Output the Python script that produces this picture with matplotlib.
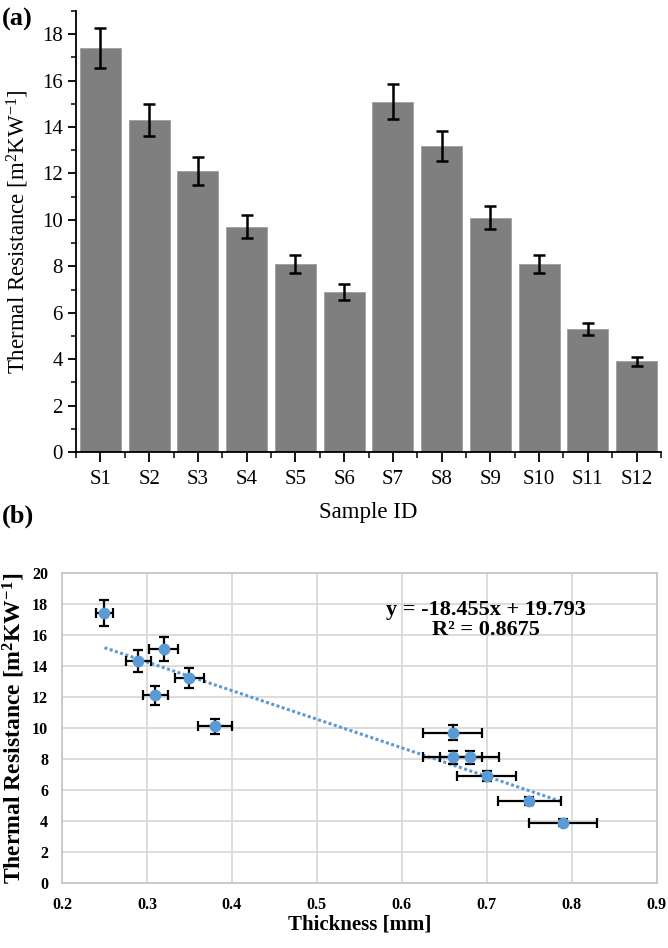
import numpy as np
import matplotlib
matplotlib.use("Agg")
import matplotlib.pyplot as plt
from matplotlib.ticker import MultipleLocator, FixedLocator

plt.rcParams['font.family'] = ['Liberation Serif', 'DejaVu Serif']
plt.rcParams['mathtext.default'] = 'regular'

samples = ["S1", "S2", "S3", "S4", "S5", "S6", "S7", "S8", "S9", "S10", "S11", "S12"]
resistance = [17.4, 14.3, 12.1, 9.7, 8.1, 6.9, 15.1, 13.2, 10.1, 8.1, 5.3, 3.9]
resistance_err = [0.85, 0.7, 0.6, 0.5, 0.4, 0.35, 0.75, 0.65, 0.5, 0.4, 0.27, 0.2]
thickness = [0.25, 0.29, 0.31, 0.66, 0.66, 0.70, 0.32, 0.35, 0.38, 0.68, 0.75, 0.79]
thickness_err = [0.01, 0.015, 0.015, 0.035, 0.035, 0.035, 0.017, 0.017, 0.02, 0.035, 0.037, 0.04]
xticks_b = [0.2, 0.3, 0.4, 0.5, 0.6, 0.7, 0.8, 0.9]
yticks_b = [0, 2, 4, 6, 8, 10, 12, 14, 16, 18, 20]
eq_text = "y = -18.455x + 19.793\nR² = 0.8675"

fig = plt.figure(figsize=(6.68, 9.48), dpi=100)

# ---- panel (a)
axa = fig.add_axes([0.1138, 0.5232, 0.8757, 0.4652])
xa = np.arange(len(samples))
axa.bar(xa, resistance, width=0.84, color='#7f7f7f', edgecolor='#a0a0a0', linewidth=0.6, zorder=2)
axa.errorbar(xa, resistance, yerr=resistance_err, fmt='none', ecolor='black',
             elinewidth=1.8, capsize=4.3, capthick=1.8, zorder=3)
axa.set_xlim(-0.5, 11.5)
axa.set_ylim(0, 19)
axa.spines['top'].set_visible(False)
axa.spines['right'].set_visible(False)
axa.spines['left'].set_linewidth(1.3)
axa.spines['bottom'].set_linewidth(1.3)
axa.yaxis.set_major_locator(MultipleLocator(2))
axa.yaxis.set_minor_locator(MultipleLocator(1))
axa.set_xticks(xa)
axa.set_xticklabels(samples)
axa.xaxis.set_minor_locator(FixedLocator(np.arange(-0.5, 12, 1.0)))
axa.tick_params(axis='y', which='major', length=6, width=1.3, direction='out', labelsize=15)
axa.tick_params(axis='y', which='minor', length=3.5, width=1.1, direction='out')
axa.tick_params(axis='x', which='major', length=7, width=1.3, direction='out', labelsize=15, pad=6)
axa.tick_params(axis='x', which='minor', length=4, width=1.1, direction='out')
axa.set_ylabel("Thermal Resistance [m$^2$KW$^{-1}$]", fontsize=16.5)
axa.yaxis.set_label_coords(-0.077, 0.5)
axa.set_xlabel("Sample ID", fontsize=16.5)
axa.xaxis.set_label_coords(0.5, -0.114)
fig.text(0.003, 0.992, "(a)", fontsize=19, fontweight='bold', ha='left', va='top')

# ---- panel (b)
axb = fig.add_axes([0.0928, 0.0686, 0.8902, 0.3270])
axb.set_xlim(0.2, 0.9)
axb.set_ylim(0, 20)
axb.set_xticks(xticks_b)
axb.set_xticklabels([f"{v:.1f}" for v in xticks_b], fontweight='bold')
axb.set_yticks(yticks_b)
axb.set_yticklabels([str(v) for v in yticks_b], fontweight='bold')
axb.grid(True, color='#d9d9d9', linewidth=1.3, zorder=0)
for s in axb.spines.values():
    s.set_color('#c8c8c8')
    s.set_linewidth(1.3)
axb.tick_params(length=0, labelsize=11.5, pad=10)

coef = np.polyfit(thickness, resistance, 1)
xt = np.array([min(thickness), max(thickness)])
axb.plot(xt, np.polyval(coef, xt), linestyle=(0, (1, 0.8)), color='#5b9bd5', linewidth=2.2, zorder=2)
axb.errorbar(thickness, resistance, xerr=thickness_err, yerr=resistance_err, fmt='o',
             color='#5b9bd5', markersize=7.5, ecolor='black', elinewidth=1.6,
             capsize=3.5, capthick=1.6, zorder=3)
axb.text(0.699, 16.95, eq_text, ha='center', va='center', fontsize=16, fontweight='bold',
         linespacing=1.0, zorder=4)
axb.set_xlabel("Thickness [mm]", fontsize=15, fontweight='bold')
axb.xaxis.set_label_coords(0.5, -0.103)
axb.set_ylabel("Thermal Resistance [m$^2$KW$^{-1}$]", fontsize=17, fontweight='bold')
axb.yaxis.set_label_coords(-0.059, 0.5)
fig.text(0.003, 0.468, "(b)", fontsize=19, fontweight='bold', ha='left', va='top')

fig.savefig("out.png", dpi=100)
